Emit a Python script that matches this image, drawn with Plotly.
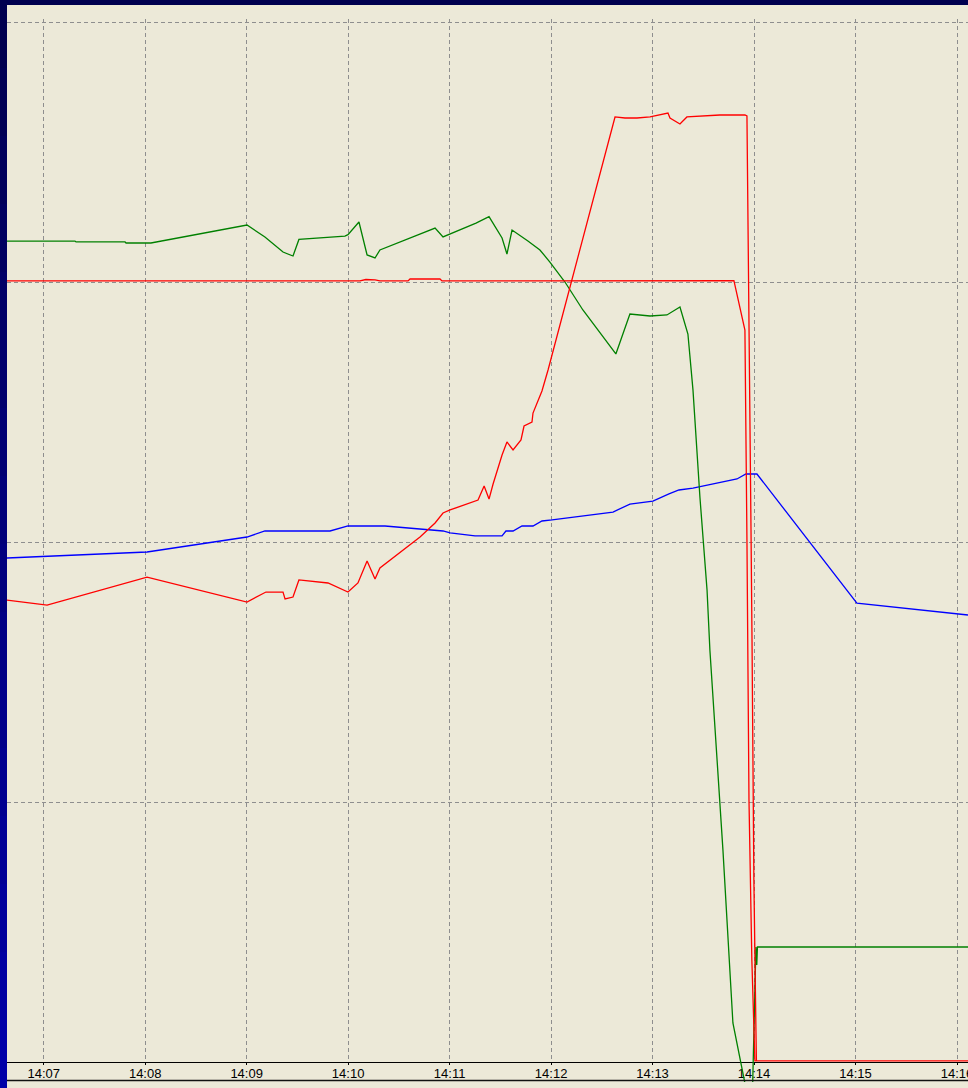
import plotly.graph_objects as go

DAY = "2024-01-01 "

# ---- data (time of sample, value on a 0-100 scale, grid every 25) ----
blue_t = ["14:06:38.3", "14:08:01.1", "14:09:00.2", "14:09:10.8", "14:09:49.3", "14:09:59.9",
          "14:10:21.8", "14:10:56.1", "14:11:00.3", "14:11:15.0", "14:11:31.0", "14:11:33.3",
          "14:11:37.5", "14:11:42.8", "14:11:49.3", "14:11:54.6", "14:12:00.6", "14:12:36.6",
          "14:12:46.6", "14:13:00.2", "14:13:09.7", "14:13:15.6", "14:13:23.9", "14:13:49.9",
          "14:13:55.2", "14:14:01.7", "14:15:00.8", "14:16:06.5"]
blue_v = [48.46, 49.04, 50.48, 51.06, 51.06, 51.54,
          51.54, 51.06, 50.87, 50.58, 50.58, 51.06,
          51.06, 51.54, 51.54, 52.02, 52.12, 52.88,
          53.65, 53.94, 54.62, 55.00, 55.19, 56.06,
          56.54, 56.54, 44.13, 42.98]

green_t = ["14:06:38.3", "14:07:18.5", "14:07:19.1", "14:07:48.1", "14:07:48.7", "14:08:03.4",
           "14:09:00.2", "14:09:10.8", "14:09:21.5", "14:09:27.4", "14:09:30.9", "14:09:58.1",
           "14:09:59.9", "14:10:06.4", "14:10:11.2", "14:10:15.9", "14:10:18.8", "14:10:51.4",
           "14:10:56.1", "14:11:15.6", "14:11:23.3", "14:11:31.0", "14:11:33.9", "14:11:36.9",
           "14:11:46.3", "14:11:53.4", "14:11:59.3", "14:12:08.2", "14:12:18.8", "14:12:38.3",
           "14:12:46.6", "14:12:58.5", "14:13:08.5", "14:13:16.2", "14:13:20.9", "14:13:23.9",
           "14:13:28.0", "14:13:29.8", "14:13:32.2", "14:13:33.9", "14:13:41.6", "14:13:47.5",
           "14:13:54.6", "14:13:57.0", "14:13:59.2", "14:14:01.1", "14:14:01.6", "14:14:02.0",
           "14:16:06.5"]
green_v = [78.94, 78.94, 78.85, 78.85, 78.75, 78.75,
           80.48, 79.33, 77.88, 77.50, 79.09, 79.42,
           79.55, 80.77, 77.60, 77.31, 78.08, 80.19,
           79.33, 80.67, 81.28, 79.23, 77.69, 80.00,
           78.94, 78.08, 76.92, 75.00, 72.31, 68.08,
           71.92, 71.73, 71.83, 72.60, 70.00, 64.60,
           54.30, 50.20, 45.40, 39.60, 20.40, 3.75,
           -2.00, -4.00, -2.00, 11.06, 9.33, 11.06,
           11.06]

red1_t = ["14:06:38.3", "14:10:07.0", "14:10:10.5", "14:10:15.9", "14:10:18.8", "14:10:35.4",
          "14:10:36.6", "14:10:54.3", "14:10:55.5", "14:13:48.1", "14:13:54.6", "14:13:55.2",
          "14:13:55.8", "14:13:57.0", "14:13:58.7", "14:14:00.5", "14:16:06.5"]
red1_v = [75.10, 75.10, 75.24, 75.20, 75.10, 75.10,
          75.29, 75.29, 75.10, 75.14, 70.38, 62.00,
          50.20, 25.20, 9.80, 0.10, 0.10]

red2_t = ["14:06:38.3", "14:07:02.0", "14:08:01.1", "14:09:00.2", "14:09:11.4", "14:09:21.5",
          "14:09:22.7", "14:09:27.4", "14:09:30.9", "14:09:48.1", "14:09:59.9", "14:10:05.8",
          "14:10:11.2", "14:10:15.9", "14:10:18.8", "14:10:42.5", "14:10:51.4", "14:10:56.1",
          "14:11:00.3", "14:11:16.8", "14:11:20.4", "14:11:23.3", "14:11:25.7", "14:11:31.0",
          "14:11:33.9", "14:11:37.5", "14:11:42.2", "14:11:44.0", "14:11:48.7", "14:11:49.3",
          "14:11:54.6", "14:11:58.2", "14:12:37.8", "14:12:43.7", "14:12:50.8", "14:12:58.5",
          "14:13:09.1", "14:13:10.3", "14:13:16.2", "14:13:20.3", "14:13:39.8", "14:13:54.6",
          "14:13:55.8", "14:13:56.1", "14:13:57.6", "14:13:58.2", "14:13:58.8", "14:13:59.9",
          "14:14:01.1", "14:14:01.4"]
red2_v = [44.42, 43.94, 46.63, 44.23, 45.19, 45.19,
          44.52, 44.71, 46.35, 46.06, 45.19, 46.06,
          48.17, 46.44, 47.50, 50.48, 51.83, 52.79,
          53.08, 54.04, 55.38, 54.13, 55.58, 58.37,
          59.62, 58.85, 59.81, 61.15, 61.54, 62.40,
          64.52, 66.54, 90.87, 90.77, 90.77, 90.87,
          91.25, 90.77, 90.19, 90.87, 91.06, 91.06,
          90.96, 85.10, 62.40, 51.15, 40.58, 17.50,
          3.27, 0.10]

x_range = ["14:06:38.3", "14:16:06.5"]
y_range = [-1.923, 101.635]      # full drawing area (traces)
grid_range = [0, 100.3]          # gridded band
BEIGE = "#ECE9D8"
GRID = "#8E8E8E"


def ts(lst):
    return [DAY + t for t in lst]


fig = go.Figure()
# empty trace so the gridded/labelled subplot (x, y) is created
fig.add_trace(go.Scatter(x=[], y=[], xaxis="x", yaxis="y", mode="lines", hoverinfo="skip"))
for tt, vv, col in [(blue_t, blue_v, "#0000FF"), (green_t, green_v, "#008000"),
                    (red1_t, red1_v, "#FF0000"), (red2_t, red2_v, "#FF0000")]:
    fig.add_trace(go.Scatter(x=ts(tt), y=vv, mode="lines", xaxis="x2", yaxis="y2",
                             line=dict(color=col, width=1.3), hoverinfo="x+y"))

shapes = []
# bottom frame line
shapes.append(dict(type="line", xref="paper", yref="paper", x0=0, x1=1, y0=0.0014, y1=0.0014,
                   line=dict(color="#111111", width=1.6), layer="above"))
# navy window border with gradient (left + top)
n = 16
ytop, ybot = 1.0047, -0.0056
for i in range(n):
    f = i / (n - 1)
    b = int(0x50 + (0xA8 - 0x50) * f)
    shapes.append(dict(type="rect", xref="paper", yref="paper", x0=-0.0075, x1=0,
                       y0=ytop - (ytop - ybot) * (i + 1) / n - 0.0005,
                       y1=ytop - (ytop - ybot) * i / n,
                       fillcolor=f"rgb(0,0,{b})", line=dict(width=0), layer="above"))
shapes.append(dict(type="rect", xref="paper", yref="paper", x0=-0.0075, x1=1.01, y0=1.0, y1=ytop,
                   fillcolor="rgb(0,0,80)", line=dict(width=0), layer="above"))

tickfont = dict(family="Liberation Sans, Arial, sans-serif", size=13, color="#000000")

grid_top_px = 22 - (grid_range[1] - 100) * 10.4

fig.update_layout(
    width=968, height=1088,
    margin=dict(l=7, r=0, t=5, b=6, pad=0, autoexpand=False),
    paper_bgcolor=BEIGE, plot_bgcolor="rgba(0,0,0,0)",
    showlegend=False,
    shapes=shapes,
    # grid / labelled axes
    xaxis=dict(type="date", range=ts(x_range), tickformat="%H:%M",
               tick0=DAY + "14:07:00", dtick=60000, anchor="y", automargin=False,
               showgrid=True, gridcolor=GRID, gridwidth=1, griddash="4px,3px",
               showline=True, linecolor="#000000", linewidth=1,
               ticks="outside", ticklen=2, tickcolor="#000000",
               ticklabelstandoff=-3, ticklabeloverflow="allow",
               tickfont=tickfont, zeroline=False, fixedrange=True),
    yaxis=dict(domain=[20 / 1077, (1082 - grid_top_px) / 1077], range=grid_range, anchor="x",
               tick0=0, dtick=25, showgrid=True, gridcolor=GRID, automargin=False,
               gridwidth=1, griddash="4px,3px", showticklabels=False, zeroline=False,
               showline=False, ticks="", fixedrange=True),
    # data axes
    xaxis2=dict(type="date", range=ts(x_range), anchor="y2", visible=False, fixedrange=True),
    yaxis2=dict(domain=[0, 1], range=y_range, anchor="x2", visible=False, fixedrange=True),
)

fig.write_html("out.html", config={"displayModeBar": False},
               post_script="document.body.style.margin='0';document.body.style.overflow='hidden';")
